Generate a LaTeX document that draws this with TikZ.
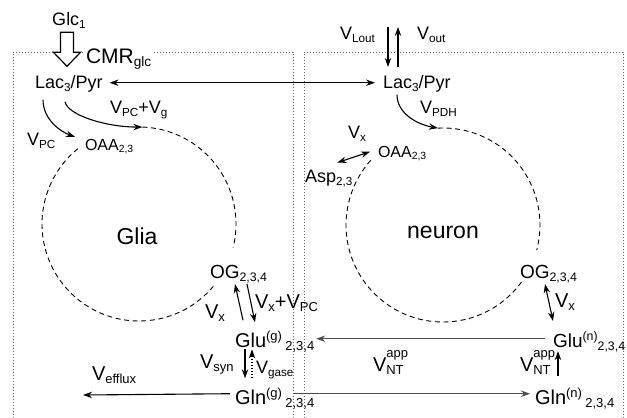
\documentclass[tikz,border=0pt]{standalone}
\usepackage{graphicx}
\usepackage{fontspec}
\setmainfont{Liberation Sans}
\usetikzlibrary{arrows.meta}

% sub- and superscripts for pools and fluxes
\newcommand{\lo}[1]{\raisebox{-0.35ex}{\scalebox{0.65}{#1}}}
\newcommand{\hi}[1]{\raisebox{0.6ex}{\scalebox{0.65}{#1}}}
\newcommand{\lohi}[2]{\rlap{\raisebox{1.3ex}{\scalebox{0.65}{#2}}}\lo{#1}}
\newcommand{\flux}[1]{V\lo{#1}}

\begin{document}
\begin{tikzpicture}[x=0.5pt, y=-0.5pt,
    lbl/.style={inner sep=0pt, outer sep=0pt, anchor=base west, font=\fontsize{9}{10}\selectfont},
    biglbl/.style={lbl, font=\fontsize{10}{11}\selectfont},
    smalllbl/.style={lbl, font=\fontsize{8}{9}\selectfont},
    cell/.style={inner sep=0pt, font=\fontsize{11.5}{13}\selectfont},
    cellbox/.style={draw=black!60, densely dotted, line width=0.5pt},
    tca/.style={dash pattern=on 2.5pt off 1.8pt, line width=0.45pt},
    arrow/.style={-{Stealth[length=4.5pt,width=3.2pt]}, line width=0.55pt},
    twoway/.style={arrow, {Stealth[length=4.5pt,width=3.2pt]}-{Stealth[length=4.5pt,width=3.2pt]}},
    hollow/.style={draw, fill=white, line width=0.6pt, line join=miter}
  ]
  \useasboundingbox (0,0) rectangle (627,418);

  % Compartments
  \draw[cellbox] (13,418) -- (13,52) -- (293,52) -- (293,418);
  \draw[cellbox] (304,418) -- (304,52) -- (623,52) -- (623,418);

  % TCA cycles
  \coordinate (gc) at (139,224);
  \coordinate (nc) at (443,225);
  \draw[tca] (gc) ++(-88:97) coordinate (gtop) arc[start angle=-88, end angle=14, radius=97];
  \draw[tca] (gc) ++(40:97) arc[start angle=40, end angle=231, radius=97];
  \draw[tca] (nc) ++(-93:97) coordinate (ntop) arc[start angle=-93, end angle=15, radius=97];
  \draw[tca] (nc) ++(36:97) arc[start angle=36, end angle=223, radius=97];
  \node[cell] (glia) at (137,236) {Glia};
  \node[cell] (neuron) at (443,232) {neuron};

  % Glucose input
  \node[lbl, anchor=base] (glc) at (69,25) {Glc\lo{1}};
  \draw[hollow] ([xshift=-1pt]glc.south) ++(-6.5,4) -- ++(0,20) -- ++(-7,0) -- ++(13.5,14)
    -- ++(13.5,-14) -- ++(-7,0) -- ++(0,-20) -- cycle;
  \node[lbl, font=\fontsize{10.5}{12}\selectfont, fill=white, inner sep=1pt] (cmr) at (84,63) {CMR\lo{glc}};

  % Lactate / pyruvate
  \node[lbl] (lacg) at (35,88) {Lac\lo{3}/Pyr};
  \node[lbl] (lacn) at (383,88) {Lac\lo{3}/Pyr};
  \draw[twoway] ([xshift=3.5pt]lacg.mid east) -- ([xshift=-4pt]lacn.mid west);
  \coordinate (ext) at (393,27);
  \node[lbl] (vlout) at (340,39) {\flux{Lout}};
  \node[lbl] (vout) at (417,39) {\flux{out}};
  \draw[arrow] ([xshift=-2.5pt]ext) -- ([xshift=2.5pt,yshift=4pt]lacn.north west);
  \draw[arrow] ([xshift=7.5pt,yshift=4pt]lacn.north west) -- ([xshift=2.5pt]ext);

  % Glia: entry into the cycle
  \node[smalllbl] (oaag) at (85,150) {OAA\lo{2,3}};
  \node[lbl] (vpc) at (27,145) {\flux{PC}};
  \node[lbl] (vpcg) at (110,113) {\flux{PC}+\flux{g}};
  \draw[arrow] ([xshift=4pt,yshift=-4pt]lacg.south west) .. controls +(0,20) and +(-14,-5) .. ([xshift=-5pt,yshift=1pt]oaag.north west);
  \draw[arrow] ([xshift=15pt,yshift=-5pt]lacg.south west) .. controls +(3,14) and +(-35,0) .. (gtop);

  % Neuron: entry into the cycle
  \node[lbl] (vpdh) at (420,113) {\flux{PDH}};
  \draw[arrow] ([xshift=7pt,yshift=-1.5pt]lacn.south west) .. controls +(0,18) and +(-22,-4) .. (ntop);
  \node[smalllbl] (oaan) at (378,157) {OAA\lo{2,3}};
  \node[lbl] (aspn) at (305,182) {Asp\lo{2,3}};
  \node[lbl] (vxa) at (348,138) {\flux{x}};
  \draw[twoway] ([xshift=-4pt]oaan.mid west) -- ([xshift=-7.5pt,yshift=3.5pt]aspn.north east);

  % Glutamate / glutamine pools
  \node[lbl, font=\fontsize{9.5}{11}\selectfont] (ogg) at (210,278) {OG\lo{2,3,4}};
  \node[lbl, font=\fontsize{9.5}{11}\selectfont] (ogn) at (520,278) {OG\lo{2,3,4}};
  \node[biglbl] (glug) at (235,347) {Glu\hi{(g)}\,\lo{2,3,4}};
  \node[lbl, font=\fontsize{9.5}{11}\selectfont] (glun) at (553,347) {Glu\hi{(n)}\lo{2,3,4}};
  \node[biglbl] (glng) at (235,404) {Gln\hi{(g)}\,\lo{2,3,4}};
  \node[biglbl] (glnn) at (535,404) {Gln\hi{(n)}\,\lo{2,3,4}};

  \node[biglbl] (vxg) at (205,318) {\flux{x}};
  \node[biglbl] (vxpc) at (255,308) {\flux{x}+\flux{PC}};
  \node[biglbl] (vxn) at (555,307) {\flux{x}};
  \node[biglbl] (vsyn) at (200,368) {\flux{syn}};
  \node[lbl] (vgase) at (256,373) {\flux{gase}};
  \node[biglbl] (vefflux) at (92,380) {\flux{efflux}};
  \node[biglbl] (vntm) at (373,371) {V\lohi{NT}{app}};
  \node[biglbl] (vntr) at (520,371) {V\lohi{NT}{app}};

  \draw[arrow] ([xshift=4pt,yshift=5.5pt]glug.north west) -- ([xshift=12.5pt,yshift=-0.5pt]ogg.south west);
  \draw[arrow] ([xshift=18.5pt,yshift=-0.5pt]ogg.south west) -- ([xshift=10pt,yshift=4.5pt]glug.north west);
  \draw[twoway] ([xshift=12.5pt,yshift=-0.5pt]ogn.south west) -- ([xshift=0pt,yshift=5.5pt]glun.north west);
  \draw[arrow] ([xshift=5pt,yshift=1.5pt]glug.south west) -- ([xshift=5pt,yshift=5pt]glng.north west);
  \draw[arrow, densely dotted] ([xshift=8.5pt,yshift=5pt]glng.north west) -- ([xshift=8.5pt,yshift=1.5pt]glug.south west);
  \draw[arrow] ([xshift=11.5pt,yshift=6pt]glnn.north west) -- ([xshift=2.5pt,yshift=0.5pt]glun.south west);

  % Glutamate-glutamine cycle
  \coordinate (effl) at (83,395);
  \draw[arrow, draw=black!70] ([xshift=-4pt,yshift=1.5pt]glun.mid west) -- ([xshift=1pt,yshift=1.5pt]glug.mid east);
  \draw[arrow, draw=black!70] ([xshift=-10pt,yshift=2.5pt]glng.mid east) -- ([xshift=-2.5pt,yshift=2.5pt]glnn.mid west);
  \draw[arrow] ([xshift=-2.5pt,yshift=2.5pt]glng.mid west) -- (effl);
\end{tikzpicture}
\end{document}
